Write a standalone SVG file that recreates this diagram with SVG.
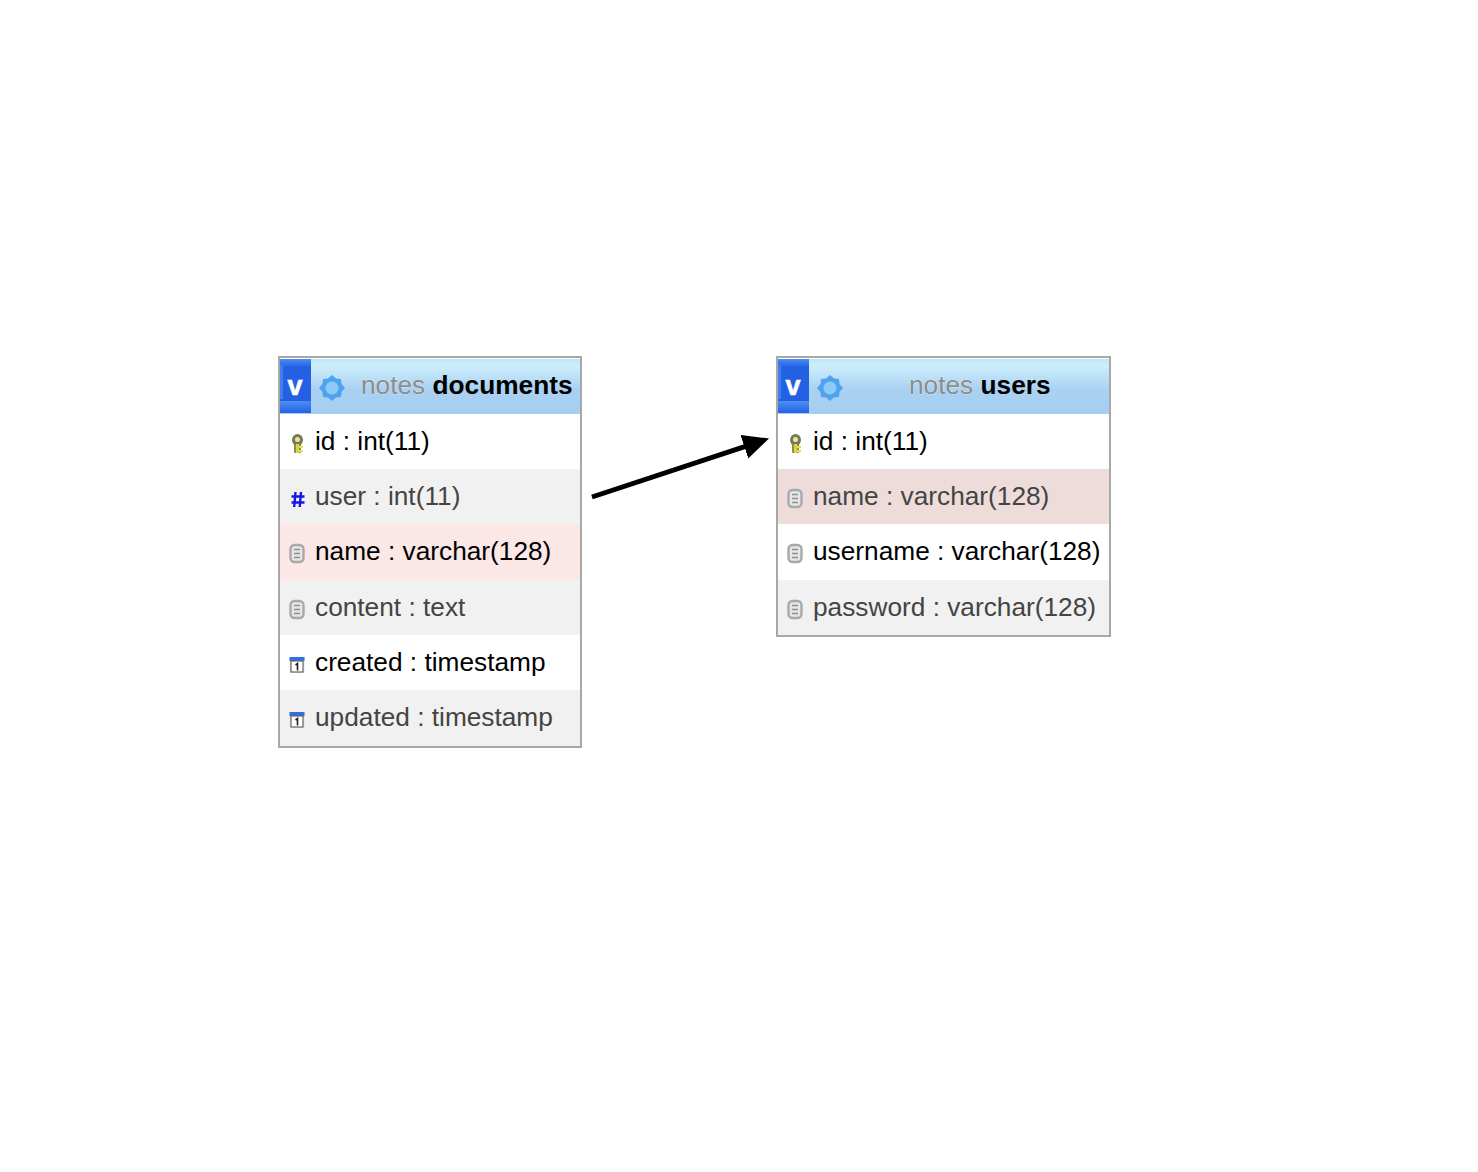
<svg xmlns="http://www.w3.org/2000/svg" width="1478" height="1172" viewBox="0 0 1478 1172">
<style>
text{font-family:"Liberation Sans",Arial,sans-serif}
.f{font-size:26.25px;fill:#000}
.g{font-size:26.25px;fill:#444}
.t{font-size:26.25px;fill:#8c8c8c;stroke:#fff;stroke-width:0.4px;paint-order:stroke}
.b{font-weight:bold;fill:#000;stroke:none}
.border{fill:none;stroke:#a8a8a8;stroke-width:2}
.v{font-size:27px;font-weight:bold;fill:#fff;stroke:#fff;stroke-width:0.6px}
</style>
<defs>
<linearGradient id="hd" x1="0" y1="0" x2="0" y2="1"><stop offset="0" stop-color="#bfe6f8"/><stop offset="0.12" stop-color="#cdeefb"/><stop offset="0.55" stop-color="#a9d1f2"/><stop offset="1" stop-color="#a6cef1"/></linearGradient>
<linearGradient id="bl" x1="0" y1="0" x2="0" y2="1"><stop offset="0" stop-color="#4a90f0"/><stop offset="1" stop-color="#2460e4"/></linearGradient>
<g id="head">
<rect x="0" y="-1" width="31" height="54" fill="#2460e4"/>
<rect x="0" y="-1" width="31" height="8" fill="url(#bl)"/>
<rect x="0" y="41" width="31" height="12" fill="url(#bl)"/>
<rect x="0" y="5" width="3" height="34" fill="#3f7fee"/>
<text class="v" x="7.500" y="35">v</text>
<path d="M52 15l4 3.500 5 .5.500 5 3.500 4-3.500 4-.500 5-5 .5-4 3.500-4-3.500-5-.5-.500-5-3.500-4 3.500-4 .500-5 5-.5z" fill="#4fa3ee"/>
<circle cx="52" cy="28" r="6.500" fill="#8ccbf5"/>
</g>
<g id="key">
<ellipse cx="6.500" cy="6" rx="5.500" ry="6" fill="#77775a"/>
<circle cx="6.500" cy="5.500" r="2.500" fill="#e8e69a"/>
<rect x="3" y="10" width="7" height="9" rx="1" fill="#8f8f40"/>
<path d="M8 12h4v2h-4zM8 16h4v2h-4z" fill="#e2e050"/>
<rect x="5" y="10" width="3" height="9" fill="#d6d44c"/>
</g>
<g id="hash"><path d="M4.500 1L3.200 16M10 1L8.700 16M.5 5.500h13M.5 11.500h13" fill="none" stroke="#1616e6" stroke-width="2.400"/></g>
<g id="doc"><rect x="1.500" y="1" width="13" height="17" rx="4" fill="#e6e6e6" stroke="#a9a9a9" stroke-width="2.400"/><path d="M5 5.500h6M5 9.500h6M5 13.500h6" stroke="#8f8f8f" stroke-width="1.500"/></g>
<g id="cal"><rect x="0.500" y="0" width="15" height="16" fill="#e4e4e4"/><rect x="0.500" y="0" width="15" height="4" fill="#2f6fe4"/><rect x="2" y="4" width="12" height="11" fill="#fff" stroke="#666" stroke-width="1.200"/><path d="M6.500 8l2-1.500v7" fill="none" stroke="#222" stroke-width="1.600"/></g>
<marker id="arr" markerUnits="userSpaceOnUse" markerWidth="28" markerHeight="26" refX="6" refY="12.500" orient="auto"><path d="M0 0L26 12.500L0 25z" fill="#000"/></marker>
</defs>
<rect width="1478" height="1172" fill="#fff"/>
<g id="connectors">
<path d="M592 497L750 444.800" fill="none" stroke="#000" stroke-width="5" marker-end="url(#arr)"/>
</g>
<g id="documents">
<rect x="280" y="358" width="300" height="388" fill="#fff"/>
<rect x="280" y="359" width="300" height="55" fill="url(#hd)"/>
<use href="#head" x="280" y="360"/>
<rect x="280" y="469" width="300" height="55" fill="#f1f1f1"/>
<rect x="280" y="524" width="300" height="56" fill="#fbe7e6"/>
<rect x="280" y="580" width="300" height="55" fill="#f1f1f1"/>
<rect x="280" y="690" width="300" height="56" fill="#f1f1f1"/>
<text class="t" x="361" y="394">notes <tspan class="b">documents</tspan></text>
<use href="#key" x="291" y="434"/><text class="f" x="315" y="450">id : int(11)</text>
<use href="#hash" x="291" y="491"/><text class="g" x="315" y="505">user : int(11)</text>
<use href="#doc" x="289" y="544"/><text class="f" x="315" y="560">name : varchar(128)</text>
<use href="#doc" x="289" y="600"/><text class="g" x="315" y="616">content : text</text>
<use href="#cal" x="289" y="657"/><text class="f" x="315" y="671">created : timestamp</text>
<use href="#cal" x="289" y="712"/><text class="g" x="315" y="726">updated : timestamp</text>
<rect class="border" x="279" y="357" width="302" height="390"/>
</g>
<g id="users">
<rect x="778" y="358" width="332" height="278" fill="#fff"/>
<rect x="778" y="359" width="332" height="55" fill="url(#hd)"/>
<use href="#head" x="778" y="360"/>
<rect x="778" y="469" width="332" height="55" fill="#eedcdb"/>
<rect x="778" y="580" width="332" height="56" fill="#f1f1f1"/>
<text class="t" x="909" y="394">notes <tspan class="b">users</tspan></text>
<use href="#key" x="789" y="434"/><text class="f" x="813" y="450">id : int(11)</text>
<use href="#doc" x="787" y="489"/><text class="g" x="813" y="505">name : varchar(128)</text>
<use href="#doc" x="787" y="544"/><text class="f" x="813" y="560">username : varchar(128)</text>
<use href="#doc" x="787" y="600"/><text class="g" x="813" y="616">password : varchar(128)</text>
<rect class="border" x="777" y="357" width="333" height="279"/>
</g>
</svg>
